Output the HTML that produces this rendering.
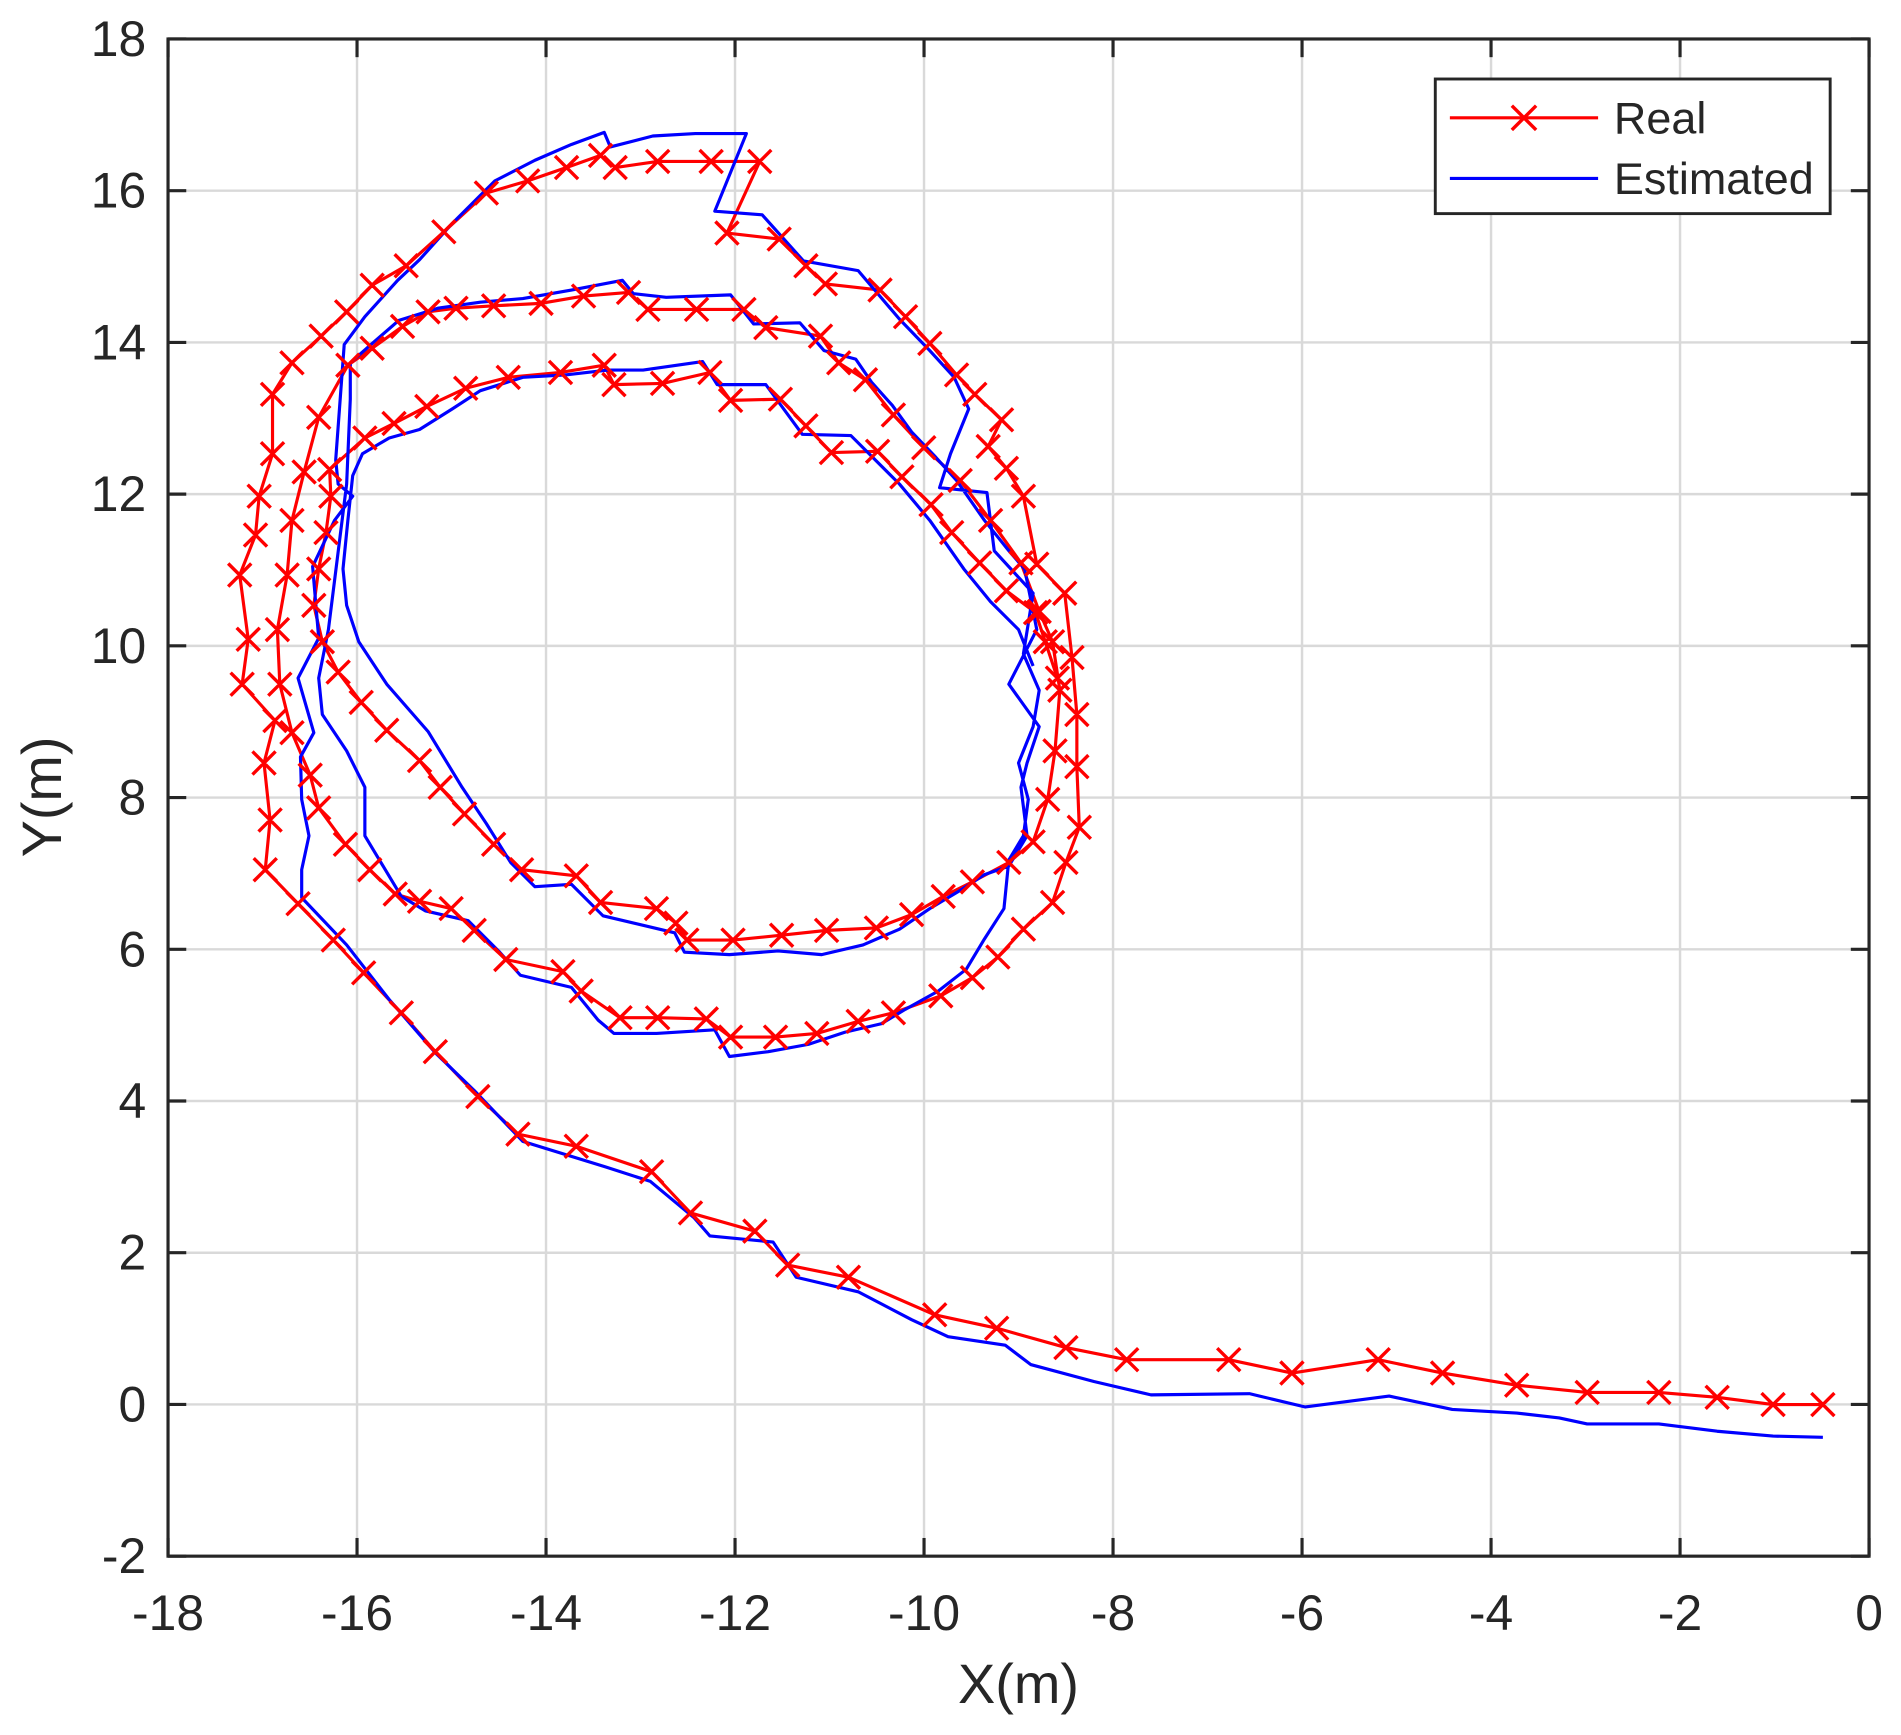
<!DOCTYPE html>
<html><head><meta charset="utf-8"><style>
html,body{margin:0;padding:0;background:#fff;}
svg{display:block;}
text{font-family:"Liberation Sans",Arial,sans-serif;fill:#262626;}
</style></head><body>
<svg id="s" width="1901" height="1735" viewBox="-0.3 0.86 1564.6 1430.6" preserveAspectRatio="none" xmlns="http://www.w3.org/2000/svg">
<rect x="-1" y="0" width="1570" height="1440" fill="#fff"/>
<g id="grid" stroke="#d9d9d9" stroke-width="2"></g>
<g id="series"></g>
<rect x="138" y="33" width="1400" height="1251" fill="none" stroke="#262626" stroke-width="2.6"/>
<g id="ticks" stroke="#262626" stroke-width="2.6"></g>
<g id="labels" font-size="41"></g>
<text x="838" y="1405" font-size="46" text-anchor="middle">X(m)</text>
<text x="0" y="0" font-size="46" text-anchor="middle" transform="translate(50,658) rotate(-90)">Y(m)</text>
<rect x="1181" y="66" width="325" height="111" fill="#fff" stroke="#262626" stroke-width="2.4"/>
<line x1="1193" y1="98" x2="1315" y2="98" stroke="#ff0000" stroke-width="2.6"/>
<path d="M1244,88L1264,108M1244,108L1264,88" stroke="#ff0000" stroke-width="2.8"/>
<line x1="1193" y1="148" x2="1315" y2="148" stroke="#0000ff" stroke-width="2.6"/>
<text x="1328" y="111" font-size="37">Real</text>
<text x="1328" y="161" font-size="37">Estimated</text>
</svg>
<script>
var NS="http://www.w3.org/2000/svg";
function el(p,t,a){var e=document.createElementNS(NS,t);for(var k in a)e.setAttribute(k,a[k]);p.appendChild(e);return e;}
var grid=document.getElementById('grid'),ticks=document.getElementById('ticks'),labels=document.getElementById('labels');
for(var i=0;i<=9;i++){var x=138+i*155.556;
 if(i>0&&i<9)el(grid,'line',{x1:x,y1:33,x2:x,y2:1284});
 el(ticks,'line',{x1:x,y1:1284,x2:x,y2:1269});el(ticks,'line',{x1:x,y1:33,x2:x,y2:48});
 var t=el(labels,'text',{x:x,y:1345,'text-anchor':'middle'});t.textContent=String(-18+2*i);}
for(var j=0;j<=10;j++){var y=33+j*125.1;
 if(j>0&&j<10)el(grid,'line',{x1:138,y1:y,x2:1538,y2:y});
 el(ticks,'line',{x1:138,y1:y,x2:153,y2:y});el(ticks,'line',{x1:1538,y1:y,x2:1523,y2:y});
 var t2=el(labels,'text',{x:120,y:y+14,'text-anchor':'end'});t2.textContent=String(18-2*j);}
var red=[[1500,1159],[1459,1159],[1413,1153],[1365,1149],[1306,1149],[1248,1143],[1187,1133],[1134,1122],[1063,1133],[1011,1122],[927,1122],[877,1112],[820,1096],[769,1085],[698,1054],[648,1044],[621,1016],[568,1001],[536,967],[474,946],[426,936],[393,905],[358,868],[330,836],[299,803],[274,776],[245,746],[218,718],[222,677],[217,630],[226,595],[199,565],[204,528],[197,475],[210,442],[213,410],[224,375],[224,326],[240,300],[264,278],[285,258],[306,236],[334,220],[365,192],[400,160],[434,150],[466,139],[494,129],[506,139],[541,134],[585,134],[625,134],[598,193],[641,198],[663,220],[679,235],[724,240],[745,262],[765,284],[787,310],[802,326],[824,347],[813,369],[828,387],[842,410],[853,466],[876,490],[882,543],[886,590],[886,633],[888,683],[877,712],[866,745],[842,767],[821,790],[800,807],[774,822],[735,836],[706,843],[672,853],[638,856],[601,856],[581,841],[541,840],[510,840],[478,818],[463,802],[416,792],[390,768],[371,750],[345,744],[325,738],[304,718],[284,697],[262,667],[255,640],[240,605],[230,565],[228,520],[236,475],[240,430],[250,390],[262,345],[286,302],[306,288],[331,270],[352,258],[375,255],[406,253],[445,251],[480,245],[517,242],[533,256],[573,256],[612,256],[630,271],[675,278],[690,300],[712,314],[735,343],[760,370],[790,397],[815,430],[840,465],[855,505],[866,530],[872,570],[868,620],[862,660],[850,695],[830,712],[800,728],[776,740],[750,755],[721,766],[680,768],[643,772],[603,776],[565,776],[556,762],[540,750],[494,745],[474,723],[429,718],[406,697],[382,672],[362,650],[345,628],[318,603],[297,580],[278,555],[265,530],[258,500],[262,470],[268,440],[272,410],[271,388],[300,362],[324,350],[351,336],[383,321],[418,312],[461,308],[497,302],[505,318],[545,317],[584,308],[601,331],[642,330],[663,352],[684,374],[722,373],[742,394],[766,417],[783,440],[806,465],[828,488],[852,506],[860,530],[870,560]];
var blue=[[1500,1186],[1459,1185],[1413,1181],[1365,1175],[1306,1175],[1283,1170],[1248,1166],[1195,1163],[1143,1152],[1074,1161],[1028,1150],[947,1151],[900,1140],[848,1126],[827,1110],[780,1103],[750,1089],[706,1066],[655,1054],[636,1025],[584,1020],[571,1005],[535,975],[498,963],[430,942],[390,900],[358,869],[320,825],[285,780],[248,741],[248,718],[254,690],[248,660],[247,625],[258,605],[245,560],[262,527],[257,468],[275,430],[290,410],[278,400],[276,380],[283,285],[300,262],[327,232],[345,215],[372,185],[407,150],[440,133],[470,120],[497,110],[502,122],[537,113],[572,111],[614,111],[588,175],[627,178],[661,216],[706,224],[740,264],[765,290],[785,312],[797,338],[782,375],[773,403],[812,407],[818,455],[850,490],[842,540],[855,570],[850,600],[838,630],[846,660],[842,690],[830,710],[826,750],[810,775],[795,800],[772,818],[745,833],[725,845],[695,852],[665,862],[632,868],[600,872],[588,850],[540,853],[505,853],[492,842],[470,815],[428,805],[410,785],[385,760],[350,752],[330,740],[300,690],[300,650],[285,620],[265,590],[262,560],[270,520],[275,480],[280,440],[285,400],[288,330],[288,300],[305,285],[328,265],[360,255],[395,250],[430,247],[470,240],[512,232],[521,243],[548,246],[601,244],[620,268],[658,267],[678,290],[704,297],[717,316],[734,335],[750,357],[770,378],[787,397],[810,430],[830,455],[843,470],[853,520],[830,565],[855,600],[845,630],[840,650],[845,690],[830,715],[810,722],[790,735],[765,750],[740,767],[710,780],[676,788],[640,785],[600,788],[563,786],[555,770],[496,756],[470,730],[440,732],[420,712],[400,680],[380,650],[352,604],[318,565],[295,530],[285,500],[282,470],[286,430],[290,393],[298,375],[320,362],[345,355],[372,338],[395,323],[430,312],[465,310],[500,306],[529,306],[578,299],[590,318],[630,318],[660,359],[700,360],[740,400],[765,430],[793,470],[815,497],[838,520],[850,550]];
var sg=document.getElementById('series');
function pts(a){return a.map(function(p){return p[0]+','+p[1];}).join(' ');}
el(sg,'polyline',{points:pts(red),fill:'none',stroke:'#ff0000','stroke-width':2.6,'stroke-linejoin':'round'});
el(sg,'polyline',{points:pts(blue),fill:'none',stroke:'#0000ff','stroke-width':2.6,'stroke-linejoin':'round'});
var d='';red.forEach(function(p){var x=p[0],y=p[1],s=9.5;d+='M'+(x-s)+','+(y-s)+'L'+(x+s)+','+(y+s)+'M'+(x-s)+','+(y+s)+'L'+(x+s)+','+(y-s);});
el(sg,'path',{d:d,stroke:'#ff0000','stroke-width':2.8,fill:'none'});
</script>
</body></html>
